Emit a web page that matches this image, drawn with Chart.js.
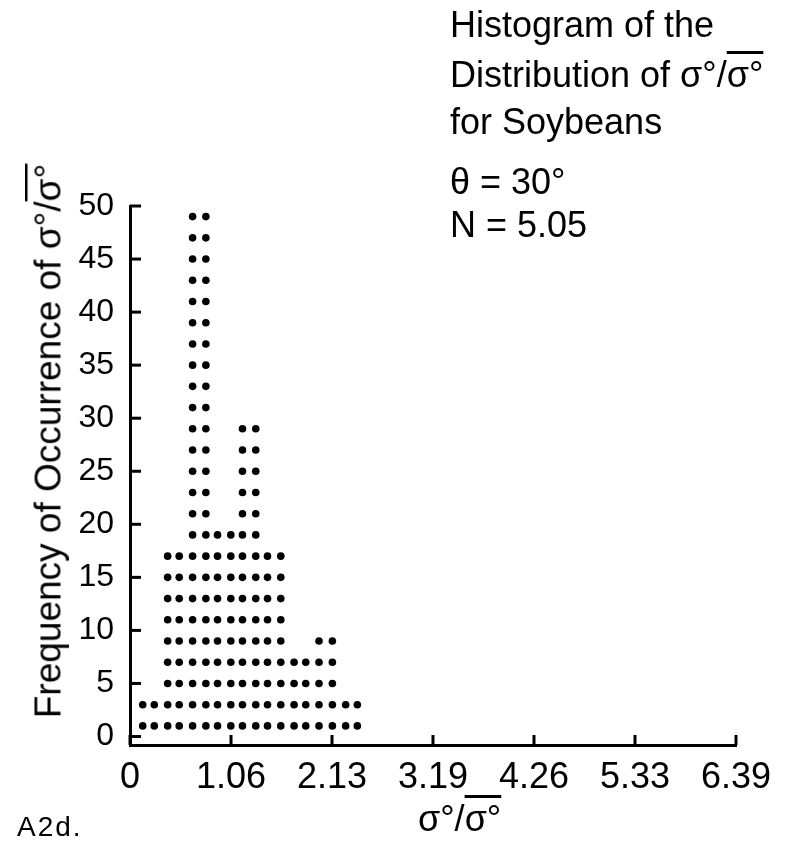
<!DOCTYPE html>
<html>
<head>
<meta charset="utf-8">
<script src="https://cdn.jsdelivr.net/npm/chart.js@4.4.1/dist/chart.umd.min.js"></script>
<style>
  body { margin:0; background:#fff; }
  #wrap { position:relative; width:797px; height:845px; }
  #c { position:absolute; left:0; top:0; }
  .t { position:absolute; font-family:"Liberation Sans", Arial, sans-serif; color:#000; white-space:nowrap; }
  .ttl { font-size:36px; line-height:36px; left:450px; }
  .ob { text-decoration:overline; }
</style>
</head>
<body>
<div id="wrap">
  <canvas id="c" width="797" height="845"></canvas>
  <div class="t ttl" style="top:7px">Histogram of the</div>
  <div class="t ttl" style="top:57px">Distribution of σ°/<span class="ob">σ°</span></div>
  <div class="t ttl" style="top:104px">for Soybeans</div>
  <div class="t ttl" style="top:164px">θ = 30°</div>
  <div class="t ttl" style="top:207px">N = 5.05</div>
  <div class="t" style="font-size:37px;line-height:37px;left:48px;top:441px;transform:translate(-50%,-50%) rotate(-90deg)">Frequency of Occurrence of σ°/<span class="ob">σ°</span></div>
  <div class="t" style="font-size:36px;line-height:36px;left:418px;top:801px">σ°/<span class="ob">σ°</span></div>
  <div class="t" style="font-size:28px;line-height:28px;left:17px;top:813px;letter-spacing:2px">A2d.</div>
</div>
<script>
/* ---------------------------
   Data
   --------------------------- */
// x position of each dot column (value of σ°/σ̄°)
const colCenters = [0.134, 0.256, 0.397, 0.519, 0.660, 0.800, 0.923, 1.063, 1.186,
                    1.326, 1.450, 1.590, 1.730, 1.853, 1.993, 2.134, 2.274, 2.397];
// number of dots stacked in each column
const colDots = [2, 2, 9, 9, 25, 25, 10, 10, 15, 15, 9, 9, 4, 4, 5, 5, 2, 2];
// frequency level of each dot row (bottom to top)
const rowLevels = [1, 3, 5, 7, 9, 11, 13, 15, 17, 19, 21, 23, 25, 27, 29,
                   31, 33, 35, 37, 39, 41, 43, 45, 47, 49];

const xTickValues = [0, 1.065, 2.13, 3.195, 4.26, 5.325, 6.39];
const xTickLabels = ['0', '1.06', '2.13', '3.19', '4.26', '5.33', '6.39'];
const yTickValues = [0, 5, 10, 15, 20, 25, 30, 35, 40, 45, 50];

/* build dot list from column counts */
const dots = [];
colCenters.forEach((x, i) => {
  for (let k = 0; k < colDots[i]; k++) dots.push({ x, y: rowLevels[k] });
});

/* ticks drawn pointing into the plot */
const inwardTicks = {
  id: 'inwardTicks',
  afterDraw(chart) {
    const { ctx, chartArea: a, scales: { x, y } } = chart;
    ctx.save();
    ctx.strokeStyle = '#000';
    ctx.lineWidth = 3;
    x.ticks.forEach(t => {
      const px = x.getPixelForValue(t.value);
      ctx.beginPath(); ctx.moveTo(px, a.bottom); ctx.lineTo(px, a.bottom - 10); ctx.stroke();
    });
    y.ticks.forEach(t => {
      const py = y.getPixelForValue(t.value);
      ctx.beginPath(); ctx.moveTo(a.left, py); ctx.lineTo(a.left + 11, py); ctx.stroke();
    });
    ctx.restore();
  }
};

const tickFont = "'Liberation Sans Narrow', 'Liberation Sans', Arial, sans-serif";

new Chart(document.getElementById('c').getContext('2d'), {
  type: 'scatter',
  data: {
    datasets: [{
      data: dots,
      pointRadius: 3.8,
      pointBackgroundColor: '#000',
      pointBorderWidth: 0,
      showLine: false
    }]
  },
  options: {
    responsive: false,
    animation: false,
    layout: { padding: { top: 206, right: 61, bottom: 0, left: 0 } },
    plugins: { legend: { display: false }, tooltip: { enabled: false } },
    scales: {
      x: {
        type: 'linear', min: 0, max: 6.39,
        grid: { display: false, drawTicks: false },
        border: { color: '#000', width: 3 },
        afterBuildTicks: s => { s.ticks = xTickValues.map(v => ({ value: v })); },
        afterFit: s => { s.height = 100; },
        ticks: {
          autoSkip: false, maxRotation: 0, padding: 11, color: '#000',
          font: { family: tickFont, size: 36 },
          callback: (v, i) => xTickLabels[i]
        }
      },
      y: {
        type: 'linear', min: -0.8, max: 50,
        grid: { display: false, drawTicks: false },
        border: { color: '#000', width: 3 },
        afterBuildTicks: s => { s.ticks = yTickValues.map(v => ({ value: v })); },
        afterFit: s => { s.width = 130; },
        ticks: {
          autoSkip: false, padding: 16, color: '#000',
          font: { family: tickFont, size: 32 }
        }
      }
    }
  },
  plugins: [inwardTicks]
});
</script>
</body>
</html>
